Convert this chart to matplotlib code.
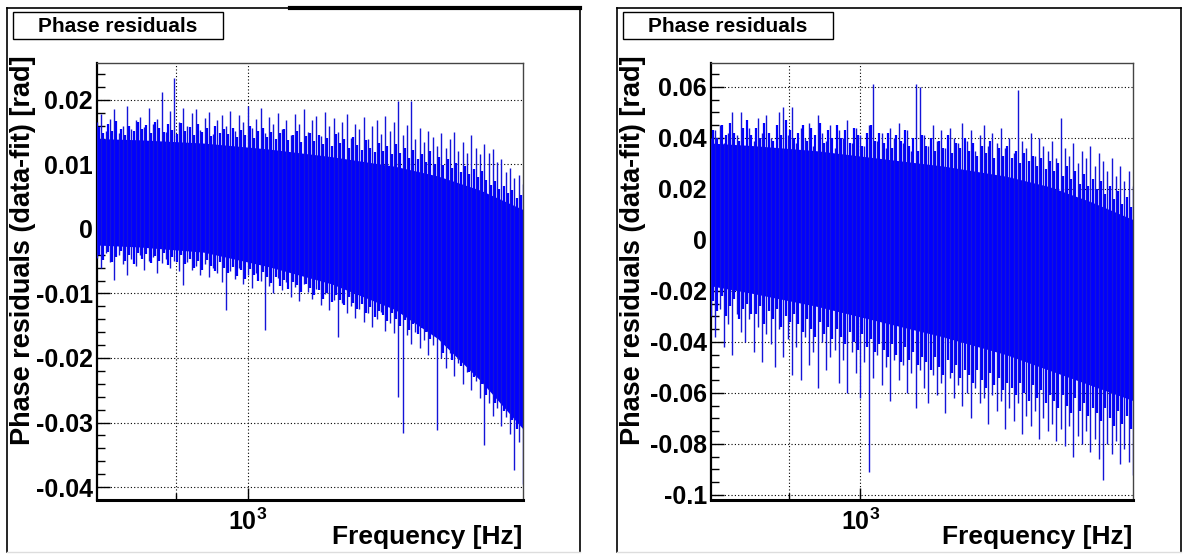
import numpy as np
import matplotlib
matplotlib.use("Agg")
import matplotlib.pyplot as plt
from matplotlib.lines import Line2D
from matplotlib.patches import Rectangle
from matplotlib.ticker import FixedLocator, MultipleLocator, NullFormatter

plt.rcParams['font.family'] = ['Liberation Sans', 'DejaVu Sans']
plt.rcParams['font.weight'] = 'bold'
plt.rcParams['mathtext.fontset'] = 'custom'
plt.rcParams['mathtext.bf'] = 'Liberation Sans:bold'
plt.rcParams['mathtext.rm'] = 'Liberation Sans:bold'
plt.rcParams['mathtext.default'] = 'bf'

W, H = 1183, 554

# frequency axis (Hz), shared by both pads
f_range = (627, 2350)
core_freq = [627, 715, 872, 1063, 1296, 1580, 1804, 2059, 2350]
spike_freq = np.geomspace(627, 2350, 100)
fuzz_freq = np.sqrt(spike_freq[:-1] * spike_freq[1:])
x_major = [1000]
x_minor = [800]

# ---- left pad (rad) ----
left_ylim = (-0.042, 0.0257)
left_yticks = [-0.04, -0.03, -0.02, -0.01, 0.0, 0.01, 0.02]
left_ylabels = ['-0.04', '-0.03', '-0.02', '-0.01', '0', '0.01', '0.02']
left_core_hi = [0.0140, 0.0138, 0.0133, 0.0124, 0.0112, 0.0097, 0.0082, 0.0060, 0.0030]
left_core_lo = [-0.0025, -0.0028, -0.0036, -0.0058, -0.0085, -0.0125, -0.0170, -0.0235, -0.0310]
left_spike_hi = [
    0.0165, 0.0178, 0.0152, 0.0171, 0.0185, 0.0148, 0.0160, 0.0191, 0.0155, 0.0168,
    0.0174, 0.0158, 0.0187, 0.0162, 0.0170, 0.0212, 0.0150, 0.0183, 0.0233, 0.0166,
    0.0188, 0.0159, 0.0179, 0.0185, 0.0153, 0.0172, 0.0181, 0.0147, 0.0169, 0.0176,
    0.0160, 0.0183, 0.0151, 0.0177, 0.0165, 0.0190, 0.0156, 0.0171, 0.0187, 0.0148,
    0.0174, 0.0162, 0.0180, 0.0155, 0.0169, 0.0146, 0.0178, 0.0163, 0.0186, 0.0150,
    0.0168, 0.0175, 0.0144, 0.0181, 0.0159, 0.0172, 0.0150, 0.0166, 0.0178, 0.0141,
    0.0163, 0.0154, 0.0174, 0.0139, 0.0160, 0.0168, 0.0147, 0.0175, 0.0152, 0.0166,
    0.0198, 0.0145, 0.0161, 0.0198, 0.0140, 0.0157, 0.0135, 0.0151, 0.0143, 0.0129,
    0.0148, 0.0126, 0.0139, 0.0150, 0.0121, 0.0134, 0.0118, 0.0145, 0.0125, 0.0116,
    0.0132, 0.0118, 0.0124, 0.0103, 0.0109, 0.0088, 0.0095, 0.0079, 0.0084, 0.0070]
left_spike_lo = [
    -0.0045, -0.0060, -0.0038, -0.0052, -0.0079, -0.0041, -0.0055, -0.0071, -0.0047, -0.0058,
    -0.0040, -0.0063, -0.0050, -0.0044, -0.0068, -0.0053, -0.0046, -0.0061, -0.0049, -0.0066,
    -0.0087, -0.0052, -0.0064, -0.0058, -0.0071, -0.0055, -0.0075, -0.0060, -0.0069, -0.0082,
    -0.0126, -0.0066, -0.0078, -0.0061, -0.0085, -0.0072, -0.0091, -0.0068, -0.0080, -0.0157,
    -0.0088, -0.0100, -0.0076, -0.0094, -0.0083, -0.0105, -0.0090, -0.0112, -0.0086, -0.0098,
    -0.0108, -0.0093, -0.0118, -0.0101, -0.0125, -0.0110, -0.0167, -0.0115, -0.0130, -0.0120,
    -0.0138, -0.0124, -0.0145, -0.0131, -0.0152, -0.0140, -0.0128, -0.0158, -0.0146, -0.0162,
    -0.0260, -0.0316, -0.0165, -0.0178, -0.0160, -0.0185, -0.0172, -0.0195, -0.0180, -0.0311,
    -0.0200, -0.0215, -0.0192, -0.0228, -0.0208, -0.0240, -0.0222, -0.0250, -0.0235, -0.0262,
    -0.0335, -0.0270, -0.0290, -0.0278, -0.0305, -0.0292, -0.0318, -0.0374, -0.0330, -0.0395]
left_fuzz_hi = [
    0.0158, 0.0149, 0.0163, 0.0152, 0.0167, 0.0155, 0.0146, 0.0160, 0.0151, 0.0165,
    0.0154, 0.0161, 0.0148, 0.0166, 0.0157, 0.0150, 0.0162, 0.0153, 0.0147, 0.0164,
    0.0152, 0.0158, 0.0146, 0.0163, 0.0150, 0.0156, 0.0144, 0.0160, 0.0149, 0.0155,
    0.0147, 0.0157, 0.0142, 0.0153, 0.0146, 0.0159, 0.0141, 0.0151, 0.0156, 0.0143,
    0.0150, 0.0139, 0.0148, 0.0155, 0.0137, 0.0146, 0.0152, 0.0135, 0.0144, 0.0149,
    0.0136, 0.0145, 0.0131, 0.0141, 0.0128, 0.0147, 0.0133, 0.0139, 0.0126, 0.0143,
    0.0130, 0.0122, 0.0137, 0.0125, 0.0119, 0.0133, 0.0121, 0.0128, 0.0116, 0.0131,
    0.0118, 0.0126, 0.0110, 0.0122, 0.0108, 0.0116, 0.0104, 0.0120, 0.0101, 0.0112,
    0.0099, 0.0108, 0.0094, 0.0102, 0.0088, 0.0097, 0.0085, 0.0093, 0.0080, 0.0089,
    0.0076, 0.0068, 0.0074, 0.0062, 0.0066, 0.0055, 0.0060, 0.0048, 0.0052]
left_fuzz_lo = [
    -0.0040, -0.0048, -0.0036, -0.0052, -0.0043, -0.0035, -0.0050, -0.0041, -0.0055, -0.0038,
    -0.0046, -0.0039, -0.0053, -0.0042, -0.0049, -0.0037, -0.0056, -0.0044, -0.0051, -0.0040,
    -0.0055, -0.0046, -0.0060, -0.0050, -0.0063, -0.0048, -0.0058, -0.0065, -0.0052, -0.0061,
    -0.0068, -0.0059, -0.0073, -0.0064, -0.0077, -0.0062, -0.0071, -0.0081, -0.0067, -0.0075,
    -0.0084, -0.0074, -0.0089, -0.0079, -0.0093, -0.0082, -0.0087, -0.0097, -0.0085, -0.0092,
    -0.0102, -0.0094, -0.0108, -0.0099, -0.0113, -0.0103, -0.0110, -0.0118, -0.0106, -0.0115,
    -0.0124, -0.0116, -0.0131, -0.0121, -0.0136, -0.0127, -0.0133, -0.0142, -0.0130, -0.0139,
    -0.0150, -0.0141, -0.0157, -0.0147, -0.0163, -0.0154, -0.0160, -0.0170, -0.0158, -0.0168,
    -0.0192, -0.0185, -0.0203, -0.0196, -0.0212, -0.0204, -0.0222, -0.0230, -0.0218, -0.0240,
    -0.0258, -0.0250, -0.0270, -0.0263, -0.0282, -0.0275, -0.0296, -0.0310, -0.0302]

# ---- right pad (rad) ----
right_ylim = (-0.102, 0.0694)
right_yticks = [-0.1, -0.08, -0.06, -0.04, -0.02, 0.0, 0.02, 0.04, 0.06]
right_ylabels = ['-0.1', '-0.08', '-0.06', '-0.04', '-0.02', '0', '0.02', '0.04', '0.06']
right_core_hi = [0.038, 0.037, 0.035, 0.032, 0.029, 0.025, 0.021, 0.015, 0.008]
right_core_lo = [-0.018, -0.021, -0.026, -0.032, -0.038, -0.045, -0.051, -0.057, -0.063]
right_spike_hi = [
    0.040, 0.043, 0.045, 0.038, 0.042, 0.050, 0.041, 0.050, 0.037, 0.044,
    0.039, 0.048, 0.042, 0.049, 0.040, 0.036, 0.050, 0.052, 0.041, 0.052,
    0.038, 0.044, 0.040, 0.046, 0.037, 0.049, 0.042, 0.039, 0.045, 0.036,
    0.043, 0.040, 0.047, 0.038, 0.044, 0.041, 0.037, 0.045, 0.061, 0.039,
    0.042, 0.036, 0.044, 0.040, 0.046, 0.038, 0.043, 0.035, 0.061, 0.060,
    0.041, 0.037, 0.045, 0.039, 0.043, 0.036, 0.044, 0.040, 0.038, 0.046,
    0.039, 0.043, 0.035, 0.041, 0.045, 0.037, 0.042, 0.038, 0.044, 0.036,
    0.040, 0.034, 0.059, 0.039, 0.036, 0.042, 0.033, 0.040, 0.037, 0.035,
    0.039, 0.032, 0.048, 0.036, 0.033, 0.038, 0.030, 0.035, 0.032, 0.037,
    0.029, 0.034, 0.031, 0.027, 0.032, 0.025, 0.029, 0.023, 0.027, 0.021]
right_spike_lo = [
    -0.030, -0.038, -0.027, -0.042, -0.033, -0.045, -0.029, -0.036, -0.040, -0.031,
    -0.044, -0.034, -0.048, -0.037, -0.041, -0.050, -0.035, -0.046, -0.039, -0.053,
    -0.042, -0.055, -0.038, -0.049, -0.044, -0.058, -0.040, -0.051, -0.046, -0.043,
    -0.056, -0.047, -0.060, -0.044, -0.052, -0.062, -0.048, -0.091, -0.054, -0.045,
    -0.057, -0.050, -0.063, -0.047, -0.055, -0.049, -0.060, -0.052, -0.066, -0.051,
    -0.058, -0.064, -0.053, -0.061, -0.056, -0.068, -0.054, -0.062, -0.057, -0.065,
    -0.060, -0.070, -0.058, -0.064, -0.062, -0.072, -0.061, -0.067, -0.063, -0.074,
    -0.066, -0.071, -0.064, -0.076, -0.069, -0.073, -0.067, -0.078, -0.070, -0.075,
    -0.072, -0.079, -0.074, -0.081, -0.073, -0.085, -0.077, -0.080, -0.075, -0.083,
    -0.078, -0.086, -0.094, -0.080, -0.084, -0.079, -0.088, -0.082, -0.087, -0.092]
right_fuzz_hi = [
    0.043, 0.040, 0.045, 0.041, 0.046, 0.042, 0.039, 0.044, 0.047, 0.041,
    0.044, 0.040, 0.046, 0.042, 0.039, 0.045, 0.041, 0.047, 0.043, 0.040,
    0.042, 0.045, 0.039, 0.044, 0.041, 0.046, 0.038, 0.043, 0.040, 0.045,
    0.040, 0.043, 0.038, 0.044, 0.041, 0.037, 0.042, 0.045, 0.039, 0.042,
    0.038, 0.042, 0.036, 0.041, 0.039, 0.043, 0.037, 0.040, 0.035, 0.041,
    0.037, 0.040, 0.035, 0.039, 0.036, 0.041, 0.034, 0.038, 0.036, 0.040,
    0.035, 0.038, 0.033, 0.037, 0.034, 0.039, 0.032, 0.036, 0.033, 0.037,
    0.032, 0.035, 0.030, 0.034, 0.031, 0.033, 0.029, 0.032, 0.028, 0.031,
    0.027, 0.030, 0.025, 0.029, 0.024, 0.027, 0.022, 0.026, 0.021, 0.024,
    0.020, 0.023, 0.018, 0.021, 0.016, 0.019, 0.014, 0.017, 0.013]
right_fuzz_lo = [
    -0.024, -0.028, -0.022, -0.030, -0.026, -0.023, -0.031, -0.027, -0.025, -0.029,
    -0.029, -0.026, -0.033, -0.028, -0.031, -0.027, -0.034, -0.030, -0.032, -0.029,
    -0.033, -0.036, -0.031, -0.035, -0.038, -0.032, -0.037, -0.034, -0.039, -0.035,
    -0.038, -0.041, -0.036, -0.040, -0.043, -0.037, -0.042, -0.039, -0.044, -0.041,
    -0.043, -0.046, -0.041, -0.045, -0.048, -0.042, -0.047, -0.044, -0.049, -0.046,
    -0.048, -0.051, -0.046, -0.050, -0.053, -0.047, -0.052, -0.049, -0.054, -0.051,
    -0.053, -0.056, -0.051, -0.055, -0.058, -0.052, -0.057, -0.054, -0.059, -0.056,
    -0.058, -0.061, -0.056, -0.060, -0.063, -0.057, -0.062, -0.059, -0.064, -0.061,
    -0.063, -0.066, -0.061, -0.065, -0.068, -0.062, -0.067, -0.064, -0.069, -0.066,
    -0.068, -0.071, -0.066, -0.070, -0.073, -0.067, -0.072, -0.069, -0.074]


def fx(x):
    return x / W


def fy(y):
    return 1 - y / H


def line(fig, x0, y0, x1, y1, lw=1.0, color='black'):
    fig.add_artist(Line2D([fx(x0), fx(x1)], [fy(y0), fy(y1)], lw=lw, color=color,
                          transform=fig.transFigure))


def draw_pad(fig, frame, canvas, title_box, ylim, yticks, ylabels, minor_step,
             core_hi, core_lo, fuzz_hi, fuzz_lo, spike_hi, spike_lo):
    # canvas border
    cx0, cy0, cx1, cy1 = canvas
    line(fig, cx0, cy0, cx0, cy1, 1.2)
    line(fig, cx1, cy0, cx1, cy1, 1.2)
    line(fig, cx0, cy0, cx1, cy0, 1.2)
    line(fig, cx0, cy1, cx1, cy1, 1.0, '#dddddd')

    # title box
    bx0, by0, bx1, by1 = title_box
    fig.add_artist(Rectangle((fx(bx0), fy(by1)), fx(bx1) - fx(bx0), fy(by0) - fy(by1),
                             transform=fig.transFigure, fill=False, lw=1.0, ec='black'))
    fig.text(fx((bx0 + bx1) / 2), fy((by0 + by1) / 2 + 1), 'Phase residuals',
             ha='center', va='center', fontsize=15, fontweight='bold')

    x0, y0, x1, y1 = frame
    ax = fig.add_axes([fx(x0), fy(y1), fx(x1) - fx(x0), fy(y0) - fy(y1)])
    ax.set_xscale('log')
    ax.set_xlim(*f_range)
    ax.set_ylim(*ylim)

    ax.fill_between(core_freq, core_lo, core_hi, color='#0000ff', lw=0, zorder=2)
    ax.vlines(fuzz_freq, fuzz_lo, fuzz_hi, color='#0000ff', lw=1.6, zorder=3)
    ax.vlines(spike_freq, spike_lo, spike_hi, color='#1414d8', lw=1.0, zorder=3)

    ax.xaxis.set_major_locator(FixedLocator(x_major))
    ax.xaxis.set_minor_locator(FixedLocator(x_minor))
    ax.set_xticklabels([r'$10^{3}$'])
    ax.xaxis.set_minor_formatter(NullFormatter())
    ax.set_yticks(yticks)
    ax.set_yticklabels(ylabels)
    ax.yaxis.set_minor_locator(MultipleLocator(minor_step))

    ax.tick_params(which='both', direction='in', top=False, right=False, labelsize=18,
                   width=1.0)
    ax.tick_params(axis='y', which='major', length=9.5, pad=3)
    ax.tick_params(axis='y', which='minor', length=5.5)
    ax.tick_params(axis='x', which='major', length=9, pad=6)
    ax.tick_params(axis='x', which='minor', length=5)

    ax.set_axisbelow(True)
    ax.xaxis.grid(True, which='both', ls=(0, (1, 2)), lw=0.8, color='black')
    ax.yaxis.grid(True, which='major', ls=(0, (1, 2)), lw=0.8, color='black')

    ax.spines['left'].set_linewidth(1.6)
    ax.spines['bottom'].set_linewidth(2.2)
    ax.spines['top'].set_linewidth(1.0)
    ax.spines['right'].set_linewidth(1.0)
    ax.spines['top'].set_color('#444444')
    ax.spines['right'].set_color('#444444')

    fig.text(fx(x1 - 1), fy(537), 'Frequency [Hz]', ha='right', va='center',
             fontsize=19, fontweight='bold')
    fig.text(fx(cx0 + 16), fy(55), 'Phase residuals (data-fit) [rad]', rotation=90,
             ha='center', va='top', fontsize=19.5, fontweight='bold')
    return ax


fig = plt.figure(figsize=(W / 100, H / 100), dpi=100)

draw_pad(fig, (97, 63, 523, 500), (7, 8, 580, 552), (13, 12, 223, 39),
         left_ylim, left_yticks, left_ylabels, 0.002,
         left_core_hi, left_core_lo, left_fuzz_hi, left_fuzz_lo,
         left_spike_hi, left_spike_lo)
# thicker piece of the left canvas top edge
line(fig, 290, 7.5, 580, 7.5, 3.0)

draw_pad(fig, (711, 63, 1133, 500), (617, 8, 1181, 552), (623, 12, 833, 39),
         right_ylim, right_yticks, right_ylabels, 0.005,
         right_core_hi, right_core_lo, right_fuzz_hi, right_fuzz_lo,
         right_spike_hi, right_spike_lo)

fig.savefig('out.png', dpi=100)
